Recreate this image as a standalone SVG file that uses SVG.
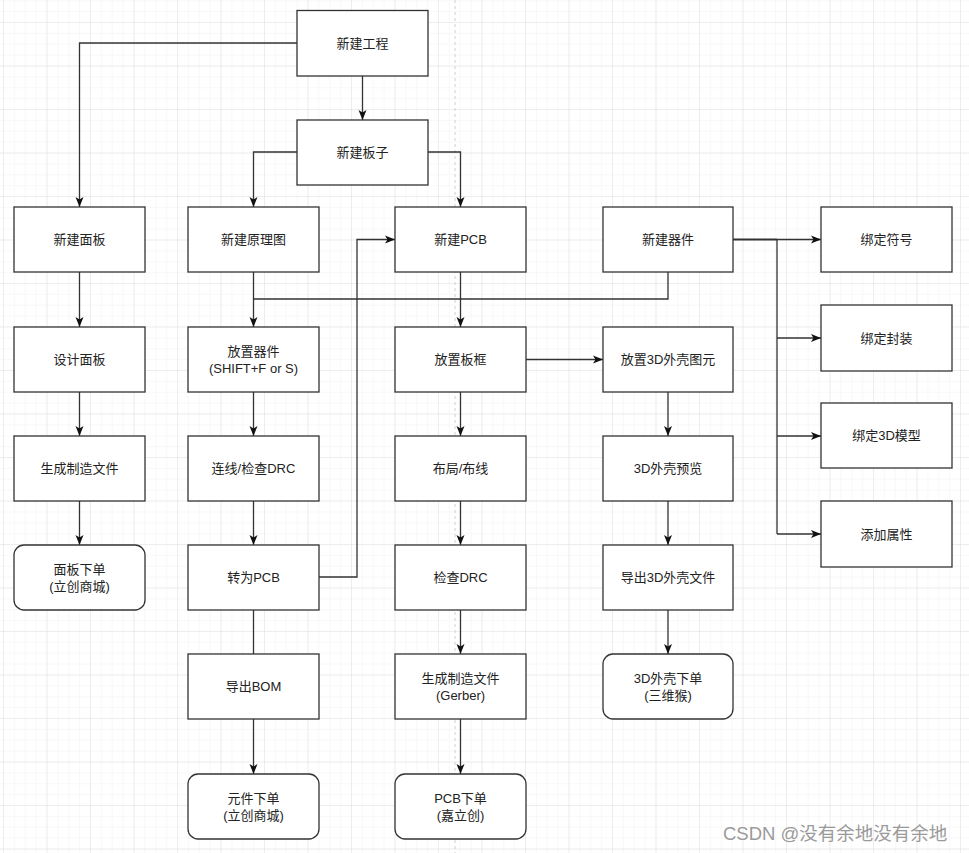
<svg xmlns="http://www.w3.org/2000/svg" width="969" height="853" viewBox="0 0 969 853">
<style>
.box{fill:#fff;stroke:#333;stroke-width:1.3}
.t{font-family:"Liberation Sans","Noto Sans CJK SC",sans-serif;font-size:13px;fill:#222;text-anchor:middle;dominant-baseline:central}
.c{fill:none;stroke:#333;stroke-width:1.3}
</style>
<defs>
<pattern id="minor" width="10.875" height="10.875" patternUnits="userSpaceOnUse" x="3" y="22">
<path d="M0,0 H10.875 M0,0 V10.875" fill="none" stroke="#f2f2f2" stroke-width="1"/>
</pattern>
<pattern id="major" width="43.5" height="43.5" patternUnits="userSpaceOnUse" x="3" y="22">
<path d="M0,0 H43.5 M0,0 V43.5" fill="none" stroke="#e2e2e2" stroke-width="1"/>
</pattern>
<marker id="a" markerUnits="userSpaceOnUse" markerWidth="10" markerHeight="10" refX="10" refY="5" orient="auto">
<path d="M0,1 L10,5 L0,9 L2.5,5 z" fill="#111"/>
</marker>
</defs>
<rect width="969" height="853" fill="#fff"/>
<rect width="969" height="853" fill="url(#minor)"/>
<rect width="969" height="853" fill="url(#major)"/>
<line x1="455" y1="0" x2="455" y2="853" stroke="#d0d0d0" stroke-width="1" stroke-dasharray="3 3"/>

<g id="connectors">
<path class="c" d="M297,43 H79.5 V207" marker-end="url(#a)"/>
<path class="c" d="M362.5,76 V120" marker-end="url(#a)"/>
<path class="c" d="M297,152 H253.5 V207" marker-end="url(#a)"/>
<path class="c" d="M428,152 H460.5 V207" marker-end="url(#a)"/>
<path class="c" d="M79.5,272 V327" marker-end="url(#a)"/>
<path class="c" d="M79.5,392 V436" marker-end="url(#a)"/>
<path class="c" d="M79.5,501 V545" marker-end="url(#a)"/>
<path class="c" d="M253.5,272 V327" marker-end="url(#a)"/>
<path class="c" d="M668,272 V299 H253.5"/>
<path class="c" d="M253.5,392 V436" marker-end="url(#a)"/>
<path class="c" d="M253.5,501 V545" marker-end="url(#a)"/>
<path class="c" d="M253.5,610 V654"/>
<path class="c" d="M253.5,719 V774" marker-end="url(#a)"/>
<path class="c" d="M319,577 H357 V239.5 H395" marker-end="url(#a)"/>
<path class="c" d="M460.5,272 V327" marker-end="url(#a)"/>
<path class="c" d="M460.5,392 V436" marker-end="url(#a)"/>
<path class="c" d="M460.5,501 V545" marker-end="url(#a)"/>
<path class="c" d="M460.5,610 V654" marker-end="url(#a)"/>
<path class="c" d="M460.5,719 V774" marker-end="url(#a)"/>
<path class="c" d="M526,359.5 H603" marker-end="url(#a)"/>
<path class="c" d="M668,392 V436" marker-end="url(#a)"/>
<path class="c" d="M668,501 V545" marker-end="url(#a)"/>
<path class="c" d="M668,610 V654" marker-end="url(#a)"/>
<path class="c" d="M733,239.5 H777" stroke-width="2.2" style="stroke-width:2.2"/>
<path class="c" d="M777,239.5 H821" marker-end="url(#a)"/>
<path class="c" d="M777,239.5 V534"/>
<path class="c" d="M777,338 H821" marker-end="url(#a)"/>
<path class="c" d="M777,436 H821" marker-end="url(#a)"/>
<path class="c" d="M777,534 H821" marker-end="url(#a)"/>
</g>

<g id="n-xinjiangongcheng"><rect class="box" x="297" y="10.5" width="131" height="65.5"/><text class="t" x="362.5" y="43">新建工程</text></g>
<g id="n-xinjianbanzi"><rect class="box" x="297" y="120" width="131" height="65"/><text class="t" x="362.5" y="152.5">新建板子</text></g>

<g id="n-xinjianmianban"><rect class="box" x="14" y="207" width="131" height="65"/><text class="t" x="79.5" y="239.5">新建面板</text></g>
<g id="n-shejimianban"><rect class="box" x="14" y="327" width="131" height="65"/><text class="t" x="79.5" y="359.5">设计面板</text></g>
<g id="n-shengchengzhizao1"><rect class="box" x="14" y="436" width="131" height="65"/><text class="t" x="79.5" y="468.5">生成制造文件</text></g>
<g id="n-mianbanxiadan"><rect class="box" x="14" y="545" width="131" height="65" rx="10"/><text class="t" x="79.5" y="569">面板下单</text><text class="t" x="79.5" y="586">(立创商城)</text></g>

<g id="n-xinjianyuanlitu"><rect class="box" x="188" y="207" width="131" height="65"/><text class="t" x="253.5" y="239.5">新建原理图</text></g>
<g id="n-fangzhiqijian"><rect class="box" x="188" y="327" width="131" height="65"/><text class="t" x="253.5" y="351">放置器件</text><text class="t" x="253.5" y="368">(SHIFT+F or S)</text></g>
<g id="n-lianxian"><rect class="box" x="188" y="436" width="131" height="65"/><text class="t" x="253.5" y="468.5">连线/检查DRC</text></g>
<g id="n-zhuanweipcb"><rect class="box" x="188" y="545" width="131" height="65"/><text class="t" x="253.5" y="577.5">转为PCB</text></g>
<g id="n-daochubom"><rect class="box" x="188" y="654" width="131" height="65"/><text class="t" x="253.5" y="686.5">导出BOM</text></g>
<g id="n-yuanjianxiadan"><rect class="box" x="188" y="774" width="131" height="65" rx="10"/><text class="t" x="253.5" y="798">元件下单</text><text class="t" x="253.5" y="815">(立创商城)</text></g>

<g id="n-xinjianpcb"><rect class="box" x="395" y="207" width="131" height="65"/><text class="t" x="460.5" y="239.5">新建PCB</text></g>
<g id="n-fangzhibankuang"><rect class="box" x="395" y="327" width="131" height="65"/><text class="t" x="460.5" y="359.5">放置板框</text></g>
<g id="n-buju"><rect class="box" x="395" y="436" width="131" height="65"/><text class="t" x="460.5" y="468.5">布局/布线</text></g>
<g id="n-jianchadrc"><rect class="box" x="395" y="545" width="131" height="65"/><text class="t" x="460.5" y="577.5">检查DRC</text></g>
<g id="n-gerber"><rect class="box" x="395" y="654" width="131" height="65"/><text class="t" x="460.5" y="678">生成制造文件</text><text class="t" x="460.5" y="695">(Gerber)</text></g>
<g id="n-pcbxiadan"><rect class="box" x="395" y="774" width="131" height="65" rx="10"/><text class="t" x="460.5" y="798">PCB下单</text><text class="t" x="460.5" y="815">(嘉立创)</text></g>

<g id="n-xinjianqijian"><rect class="box" x="603" y="207" width="130" height="65"/><text class="t" x="668" y="239.5">新建器件</text></g>
<g id="n-3dtuyuan"><rect class="box" x="603" y="327" width="130" height="65"/><text class="t" x="668" y="359.5">放置3D外壳图元</text></g>
<g id="n-3dyulan"><rect class="box" x="603" y="436" width="130" height="65"/><text class="t" x="668" y="468.5">3D外壳预览</text></g>
<g id="n-3dwenjian"><rect class="box" x="603" y="545" width="130" height="65"/><text class="t" x="668" y="577.5">导出3D外壳文件</text></g>
<g id="n-3dxiadan"><rect class="box" x="603" y="654" width="130" height="65" rx="10"/><text class="t" x="668" y="678">3D外壳下单</text><text class="t" x="668" y="695">(三维猴)</text></g>

<g id="n-fuhao"><rect class="box" x="821" y="207" width="131" height="65"/><text class="t" x="886.5" y="239.5">绑定符号</text></g>
<g id="n-fengzhuang"><rect class="box" x="821" y="305" width="131" height="66"/><text class="t" x="886.5" y="338">绑定封装</text></g>
<g id="n-3dmoxing"><rect class="box" x="821" y="403" width="131" height="65"/><text class="t" x="886.5" y="435.5">绑定3D模型</text></g>
<g id="n-shuxing"><rect class="box" x="821" y="501" width="131" height="66"/><text class="t" x="886.5" y="534">添加属性</text></g>

<text x="723" y="840" font-family="Liberation Sans, Noto Sans CJK SC, sans-serif" font-size="18.5" fill="#9a9a9a">CSDN @没有余地没有余地</text>
</svg>
